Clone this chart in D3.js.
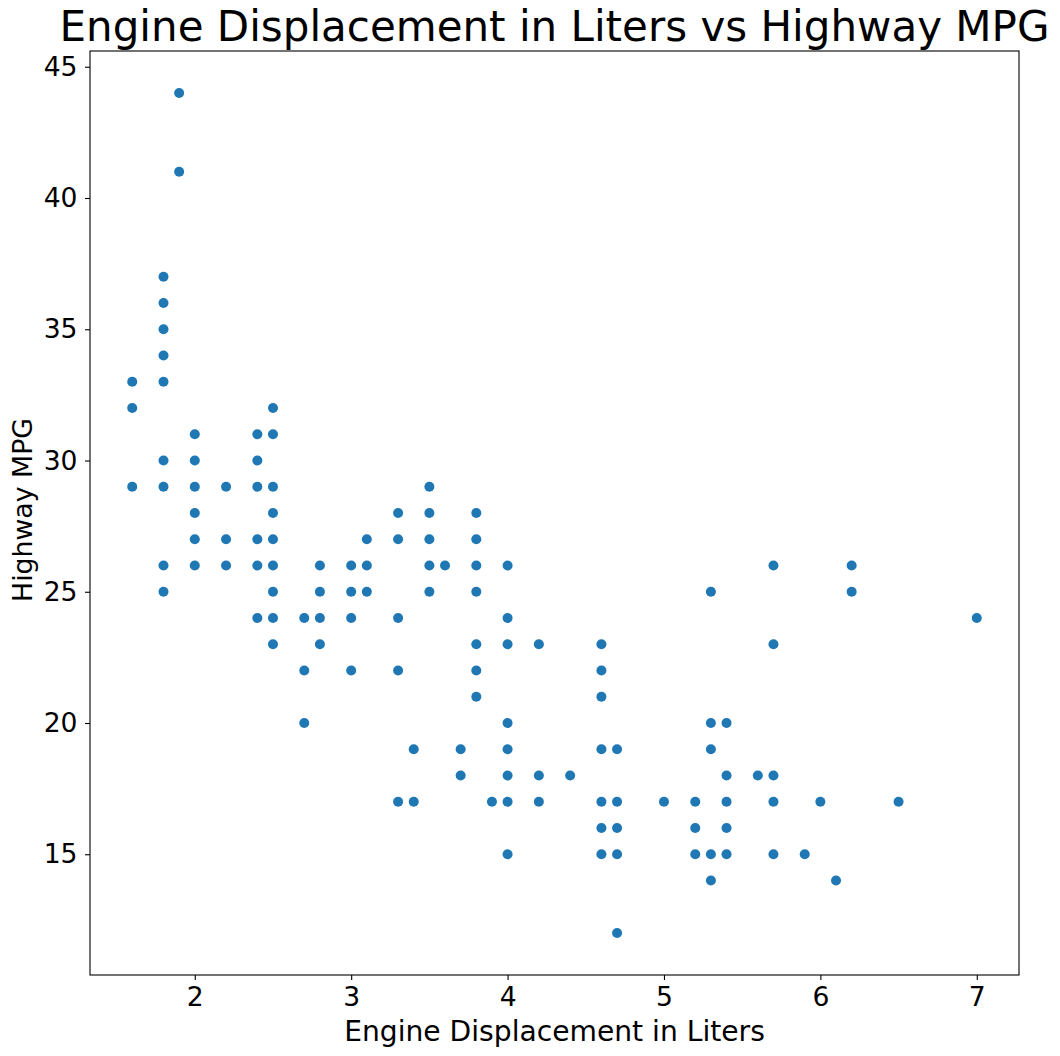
<!DOCTYPE html>
<html>
<head>
<meta charset="utf-8">
<script src="https://cdn.jsdelivr.net/npm/d3@7"></script>
<style>
  html, body { margin: 0; padding: 0; background: #fff; }
  svg { display: block; }
</style>
</head>
<body>
<svg id="chart" width="1060" height="1056"></svg>
<script>
// Engine displacement (L) and highway MPG, one entry per visible point
const displ = [
  1.6,1.6,1.6,
  1.8,1.8,1.8,1.8,1.8,1.8,1.8,1.8,1.8,
  1.9,1.9,
  2.0,2.0,2.0,2.0,2.0,2.0,
  2.2,2.2,2.2,
  2.4,2.4,2.4,2.4,2.4,2.4,
  2.5,2.5,2.5,2.5,2.5,2.5,2.5,2.5,2.5,
  2.7,2.7,2.7,
  2.8,2.8,2.8,2.8,
  3.0,3.0,3.0,3.0,
  3.1,3.1,3.1,
  3.3,3.3,3.3,3.3,3.3,
  3.4,3.4,
  3.5,3.5,3.5,3.5,3.5,
  3.6,
  3.7,3.7,
  3.8,3.8,3.8,3.8,3.8,3.8,3.8,
  3.9,
  4.0,4.0,4.0,4.0,4.0,4.0,4.0,4.0,
  4.2,4.2,4.2,
  4.4,
  4.6,4.6,4.6,4.6,4.6,4.6,4.6,
  4.7,4.7,4.7,4.7,4.7,
  5.0,
  5.2,5.2,5.2,
  5.3,5.3,5.3,5.3,5.3,
  5.4,5.4,5.4,5.4,5.4,
  5.6,
  5.7,5.7,5.7,5.7,5.7,
  5.9,
  6.0,
  6.1,
  6.2,6.2,
  6.5,
  7.0
];
const hwy = [
  33,32,29,
  37,36,35,34,33,30,29,26,25,
  44,41,
  31,30,29,28,27,26,
  29,27,26,
  31,30,29,27,26,24,
  32,31,29,28,27,26,25,24,23,
  24,22,20,
  26,25,24,23,
  26,25,24,22,
  27,26,25,
  28,27,24,22,17,
  19,17,
  29,28,27,26,25,
  26,
  19,18,
  28,27,26,25,23,22,21,
  17,
  26,24,23,20,19,18,17,15,
  23,18,17,
  18,
  23,22,21,19,17,16,15,
  19,17,16,15,12,
  17,
  17,16,15,
  25,20,19,15,14,
  20,18,17,16,15,
  18,
  26,23,18,17,15,
  15,
  17,
  14,
  26,25,
  17,
  24
];
const xTicks = [2, 3, 4, 5, 6, 7];
const yTicks = [15, 20, 25, 30, 35, 40, 45];
const titleText = "Engine Displacement in Liters vs Highway MPG";
const xLabelText = "Engine Displacement in Liters";
const yLabelText = "Highway MPG";

const font = "'DejaVu Sans', sans-serif";
const L = 90, R = 1019, T = 51, B = 975;

const svg = d3.select("#chart");

const x = d3.scaleLinear().domain([1.33, 7.27]).range([L, R]);
const y = d3.scaleLinear().domain([10.4, 45.6]).range([B, T]);

const points = displ.map((d, i) => ({ d, h: hwy[i] }));

svg.append("g")
  .selectAll("circle")
  .data(points)
  .join("circle")
  .attr("cx", p => x(p.d))
  .attr("cy", p => y(p.h))
  .attr("r", 5)
  .attr("fill", "#1f77b4");

// frame
svg.append("rect")
  .attr("x", L).attr("y", T)
  .attr("width", R - L).attr("height", B - T)
  .attr("fill", "none")
  .attr("stroke", "#000")
  .attr("stroke-width", 1.1);

// size a text so its rendered length matches the width measured on the reference
function fitText(sel, targetWidth, baseSize) {
  sel.style("font-size", baseSize + "px");
  const w = sel.node().getComputedTextLength();
  let s = baseSize;
  if (w > 0) s = Math.max(baseSize * 0.9, Math.min(baseSize * 1.15, baseSize * targetWidth / w));
  sel.style("font-size", s + "px");
  return s;
}

const title = svg.append("text")
  .attr("x", (L + R) / 2).attr("y", 41)
  .attr("text-anchor", "middle")
  .style("font-family", font)
  .attr("fill", "#000")
  .text(titleText);
fitText(title, 990, 40);

const xLab = svg.append("text")
  .attr("x", (L + R) / 2).attr("y", 1041)
  .attr("text-anchor", "middle")
  .style("font-family", font)
  .attr("fill", "#000")
  .text(xLabelText);
const labSize = fitText(xLab, 421, 26.5);

const yLab = svg.append("text")
  .attr("transform", `translate(32,${(T + B) / 2 - 3}) rotate(-90)`)
  .attr("text-anchor", "middle")
  .style("font-family", font)
  .attr("fill", "#000")
  .text(yLabelText);
fitText(yLab, 184, 26.5);

const tickSize = 25 * labSize / 26.5;

const xAxis = svg.append("g")
  .attr("transform", `translate(0,${B})`)
  .call(d3.axisBottom(x).tickValues(xTicks).tickFormat(d3.format("d")).tickSize(5).tickPadding(7));
const yAxis = svg.append("g")
  .attr("transform", `translate(${L},0)`)
  .call(d3.axisLeft(y).tickValues(yTicks).tickFormat(d3.format("d")).tickSize(5).tickPadding(7.5));

[xAxis, yAxis].forEach(a => {
  a.select(".domain").remove();
  a.selectAll(".tick line").attr("stroke", "#000").attr("stroke-width", 1.1);
  a.selectAll(".tick text")
    .attr("fill", "#000")
    .style("font-family", font)
    .style("font-size", tickSize + "px");
});
</script>
</body>
</html>
